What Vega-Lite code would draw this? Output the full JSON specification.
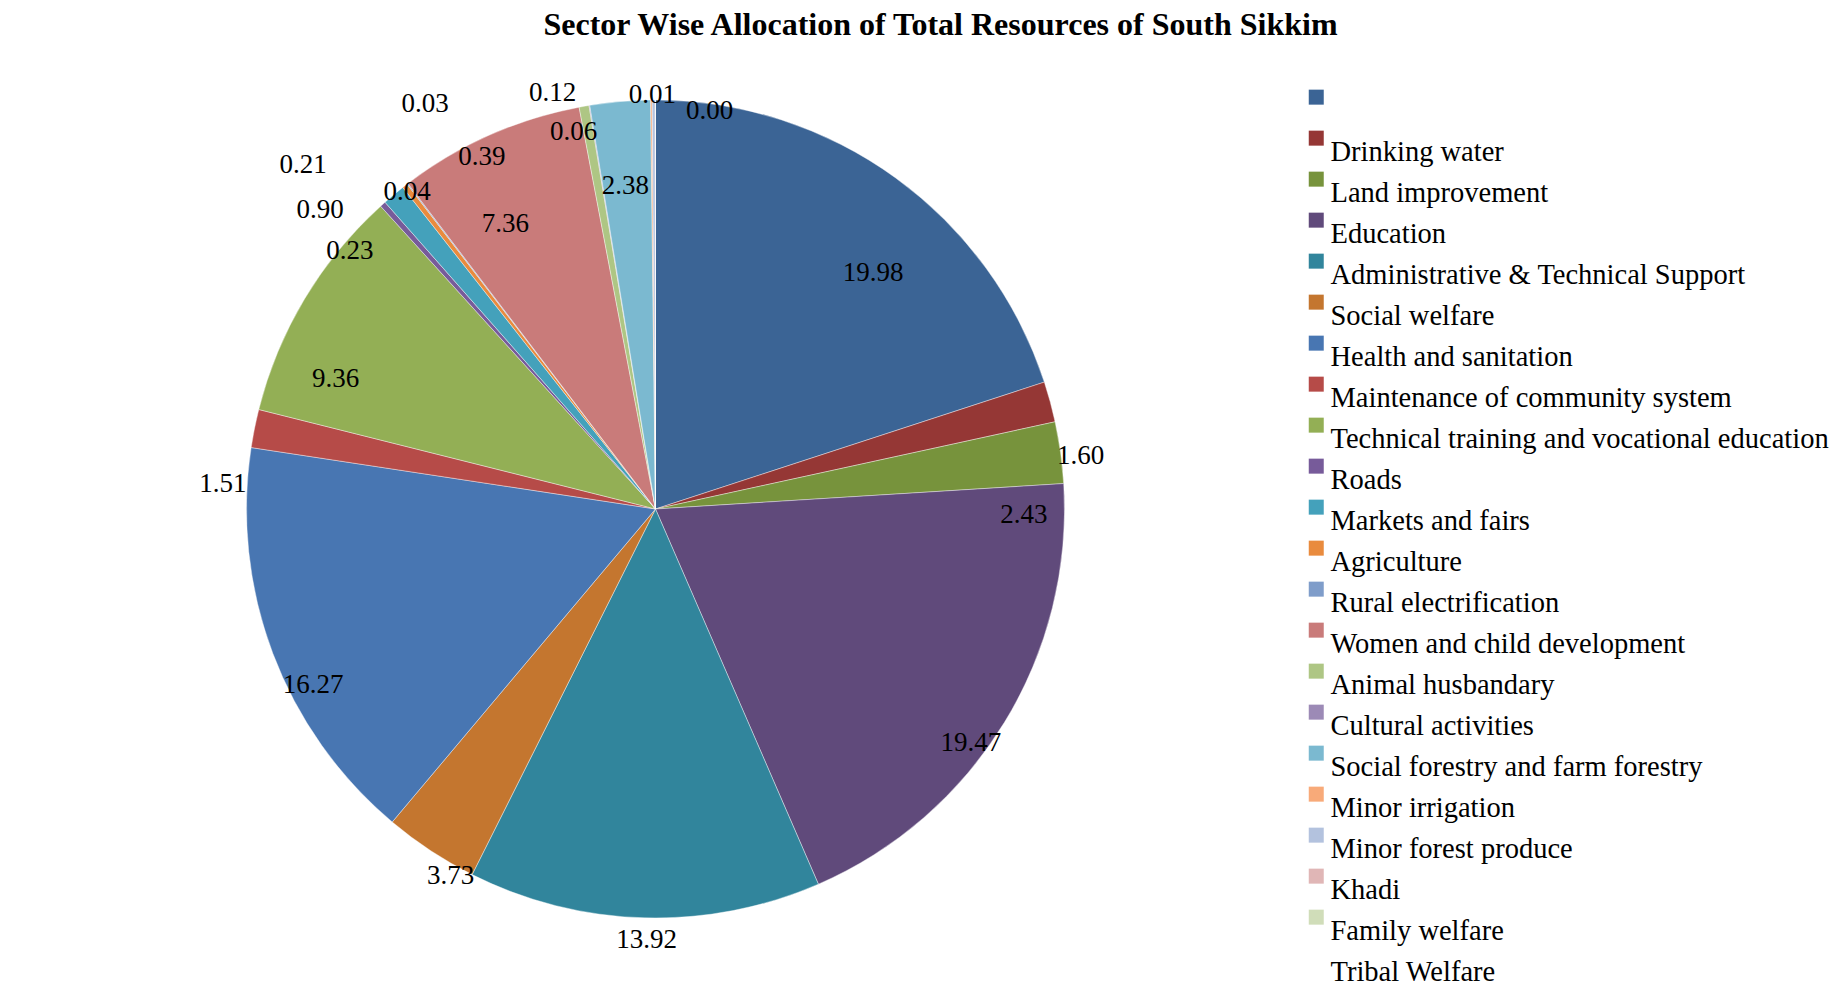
{
  "$schema": "https://vega.github.io/schema/vega-lite/v6.json",
  "width": 1311,
  "height": 918,
  "autosize": {"type": "none"},
  "padding": {"left": 0, "top": 50, "right": 530, "bottom": 36},
  "background": "white",
  "title": {
    "text": "Sector Wise Allocation of Total Resources of South Sikkim",
    "font": "Liberation Serif",
    "fontSize": 32,
    "fontWeight": "bold",
    "color": "black",
    "anchor": "middle",
    "frame": "group",
    "dx": 285,
    "offset": 6
  },
  "data": {
    "values": [
      {"category": " ", "value": 19.98},
      {"category": "Drinking water", "value": 1.60},
      {"category": "Land improvement", "value": 2.43},
      {"category": "Education", "value": 19.47},
      {"category": "Administrative & Technical Support", "value": 13.92},
      {"category": "Social welfare", "value": 3.73},
      {"category": "Health and  sanitation", "value": 16.27},
      {"category": "Maintenance of community system", "value": 1.51},
      {"category": "Technical training and vocational education", "value": 9.36},
      {"category": "Roads", "value": 0.23},
      {"category": "Markets and fairs", "value": 0.90},
      {"category": "Agriculture", "value": 0.21},
      {"category": "Rural electrification", "value": 0.04},
      {"category": "Women and child development", "value": 7.36},
      {"category": "Animal husbandary", "value": 0.39},
      {"category": "Cultural activities", "value": 0.03},
      {"category": "Social forestry and farm forestry", "value": 2.38},
      {"category": "Minor irrigation", "value": 0.06},
      {"category": "Minor forest produce", "value": 0.12},
      {"category": "Khadi", "value": 0.01},
      {"category": "Family welfare", "value": 0.00}
    ]
  },
  "transform": [{"window": [{"op": "row_number", "as": "rn"}]}],
  "encoding": {
    "theta": {"field": "value", "type": "quantitative", "stack": true},
    "order": {"field": "rn", "type": "quantitative"}
  },
  "layer": [
    {
      "mark": {"type": "arc", "outerRadius": 409, "stroke": "white", "strokeWidth": 0.4},
      "encoding": {
        "color": {
          "field": "category",
          "type": "nominal",
          "scale": {
            "domain": [" ", "Drinking water", "Land improvement", "Education", "Administrative & Technical Support", "Social welfare", "Health and  sanitation", "Maintenance of community system", "Technical training and vocational education", "Roads", "Markets and fairs", "Agriculture", "Rural electrification", "Women and child development", "Animal husbandary", "Cultural activities", "Social forestry and farm forestry", "Minor irrigation", "Minor forest produce", "Khadi", "Family welfare", "Tribal Welfare"],
            "range": ["#3B6495", "#953735", "#77933C", "#604A7B", "#31859C", "#C4762F", "#4876B2", "#B64B48", "#93AF55", "#775B9A", "#44A1BB", "#E98B3E", "#7F9DCA", "#C97B7A", "#AEC684", "#9C8AB6", "#7BB9D0", "#F8AA79", "#B3C2DE", "#E0B6B6", "#D0DDB9", "#FFFFFF"]
          },
          "legend": {
            "orient": "none",
            "legendX": 1302,
            "legendY": 47,
            "title": null,
            "symbolType": "M-1,-2.88H1V-0.88H-1Z",
            "symbolSize": 225,
            "symbolStrokeWidth": 0,
            "symbolOpacity": 1,
            "labelFont": "Liberation Serif",
            "labelFontSize": 28.5,
            "labelColor": "black",
            "labelBaseline": "middle",
            "labelOffset": 0,
            "labelLimit": 800,
            "rowPadding": 4,
            "padding": 0
          }
        }
      }
    },
    {"mark": {"type": "text", "radius": 321, "dx": 29, "dy": 24, "font": "Liberation Serif", "fontSize": 27, "color": "black"},
     "encoding": {"detail": {"field": "category"}, "text": {"condition": {"test": "datum.category === ' '", "field": "value", "type": "quantitative", "format": ".2f"}, "value": ""}}},
    {"mark": {"type": "text", "radius": 428, "dx": 12, "dy": 59, "font": "Liberation Serif", "fontSize": 27, "color": "black"},
     "encoding": {"detail": {"field": "category"}, "text": {"condition": {"test": "datum.category === 'Drinking water'", "field": "value", "type": "quantitative", "format": ".2f"}, "value": ""}}},
    {"mark": {"type": "text", "radius": 369, "dx": 3, "dy": 57, "font": "Liberation Serif", "fontSize": 27, "color": "black"},
     "encoding": {"detail": {"field": "category"}, "text": {"condition": {"test": "datum.category === 'Land improvement'", "field": "value", "type": "quantitative", "format": ".2f"}, "value": ""}}},
    {"mark": {"type": "text", "radius": 392, "dx": -19, "dy": 29, "font": "Liberation Serif", "fontSize": 27, "color": "black"},
     "encoding": {"detail": {"field": "category"}, "text": {"condition": {"test": "datum.category === 'Education'", "field": "value", "type": "quantitative", "format": ".2f"}, "value": ""}}},
    {"mark": {"type": "text", "radius": 431, "dx": 3, "dy": 0, "font": "Liberation Serif", "fontSize": 27, "color": "black"},
     "encoding": {"detail": {"field": "category"}, "text": {"condition": {"test": "datum.category === 'Administrative & Technical Support'", "field": "value", "type": "quantitative", "format": ".2f"}, "value": ""}}},
    {"mark": {"type": "text", "radius": 420, "dx": 26, "dy": 16, "font": "Liberation Serif", "fontSize": 27, "color": "black"},
     "encoding": {"detail": {"field": "category"}, "text": {"condition": {"test": "datum.category === 'Social welfare'", "field": "value", "type": "quantitative", "format": ".2f"}, "value": ""}}},
    {"mark": {"type": "text", "radius": 385, "dx": 18, "dy": 40, "font": "Liberation Serif", "fontSize": 27, "color": "black"},
     "encoding": {"detail": {"field": "category"}, "text": {"condition": {"test": "datum.category === 'Health and  sanitation'", "field": "value", "type": "quantitative", "format": ".2f"}, "value": ""}}},
    {"mark": {"type": "text", "radius": 433, "dx": -8, "dy": 60, "font": "Liberation Serif", "fontSize": 27, "color": "black"},
     "encoding": {"detail": {"field": "category"}, "text": {"condition": {"test": "datum.category === 'Maintenance of community system'", "field": "value", "type": "quantitative", "format": ".2f"}, "value": ""}}},
    {"mark": {"type": "text", "radius": 345, "dx": -24, "dy": 47, "font": "Liberation Serif", "fontSize": 27, "color": "black"},
     "encoding": {"detail": {"field": "category"}, "text": {"condition": {"test": "datum.category === 'Technical training and vocational education'", "field": "value", "type": "quantitative", "format": ".2f"}, "value": ""}}},
    {"mark": {"type": "text", "radius": 400, "dx": -39, "dy": 40, "font": "Liberation Serif", "fontSize": 27, "color": "black"},
     "encoding": {"detail": {"field": "category"}, "text": {"condition": {"test": "datum.category === 'Roads'", "field": "value", "type": "quantitative", "format": ".2f"}, "value": ""}}},
    {"mark": {"type": "text", "radius": 449, "dx": -48, "dy": 46, "font": "Liberation Serif", "fontSize": 27, "color": "black"},
     "encoding": {"detail": {"field": "category"}, "text": {"condition": {"test": "datum.category === 'Markets and fairs'", "field": "value", "type": "quantitative", "format": ".2f"}, "value": ""}}},
    {"mark": {"type": "text", "radius": 492, "dx": -51, "dy": 45, "font": "Liberation Serif", "fontSize": 27, "color": "black"},
     "encoding": {"detail": {"field": "category"}, "text": {"condition": {"test": "datum.category === 'Agriculture'", "field": "value", "type": "quantitative", "format": ".2f"}, "value": ""}}},
    {"mark": {"type": "text", "radius": 403, "dx": -4, "dy": 3, "font": "Liberation Serif", "fontSize": 27, "color": "black"},
     "encoding": {"detail": {"field": "category"}, "text": {"condition": {"test": "datum.category === 'Rural electrification'", "field": "value", "type": "quantitative", "format": ".2f"}, "value": ""}}},
    {"mark": {"type": "text", "radius": 322, "dx": -19, "dy": 9, "font": "Liberation Serif", "fontSize": 27, "color": "black"},
     "encoding": {"detail": {"field": "category"}, "text": {"condition": {"test": "datum.category === 'Women and child development'", "field": "value", "type": "quantitative", "format": ".2f"}, "value": ""}}},
    {"mark": {"type": "text", "radius": 393, "dx": -105, "dy": 35, "font": "Liberation Serif", "fontSize": 27, "color": "black"},
     "encoding": {"detail": {"field": "category"}, "text": {"condition": {"test": "datum.category === 'Animal husbandary'", "field": "value", "type": "quantitative", "format": ".2f"}, "value": ""}}},
    {"mark": {"type": "text", "radius": 466, "dx": -155, "dy": 55, "font": "Liberation Serif", "fontSize": 27, "color": "black"},
     "encoding": {"detail": {"field": "category"}, "text": {"condition": {"test": "datum.category === 'Cultural activities'", "field": "value", "type": "quantitative", "format": ".2f"}, "value": ""}}},
    {"mark": {"type": "text", "radius": 324, "dx": -2, "dy": 0, "font": "Liberation Serif", "fontSize": 27, "color": "black"},
     "encoding": {"detail": {"field": "category"}, "text": {"condition": {"test": "datum.category === 'Social forestry and farm forestry'", "field": "value", "type": "quantitative", "format": ".2f"}, "value": ""}}},
    {"mark": {"type": "text", "radius": 386, "dx": -78, "dy": 9, "font": "Liberation Serif", "fontSize": 27, "color": "black"},
     "encoding": {"detail": {"field": "category"}, "text": {"condition": {"test": "datum.category === 'Minor irrigation'", "field": "value", "type": "quantitative", "format": ".2f"}, "value": ""}}},
    {"mark": {"type": "text", "radius": 429, "dx": -101, "dy": 13, "font": "Liberation Serif", "fontSize": 27, "color": "black"},
     "encoding": {"detail": {"field": "category"}, "text": {"condition": {"test": "datum.category === 'Minor forest produce'", "field": "value", "type": "quantitative", "format": ".2f"}, "value": ""}}},
    {"mark": {"type": "text", "radius": 414, "dx": -3, "dy": 0, "font": "Liberation Serif", "fontSize": 27, "color": "black"},
     "encoding": {"detail": {"field": "category"}, "text": {"condition": {"test": "datum.category === 'Khadi'", "field": "value", "type": "quantitative", "format": ".2f"}, "value": ""}}},
    {"mark": {"type": "text", "radius": 402, "dx": 54, "dy": 4, "font": "Liberation Serif", "fontSize": 27, "color": "black"},
     "encoding": {"detail": {"field": "category"}, "text": {"condition": {"test": "datum.category === 'Family welfare'", "field": "value", "type": "quantitative", "format": ".2f"}, "value": ""}}}
  ],
  "config": {"view": {"stroke": null}}
}
